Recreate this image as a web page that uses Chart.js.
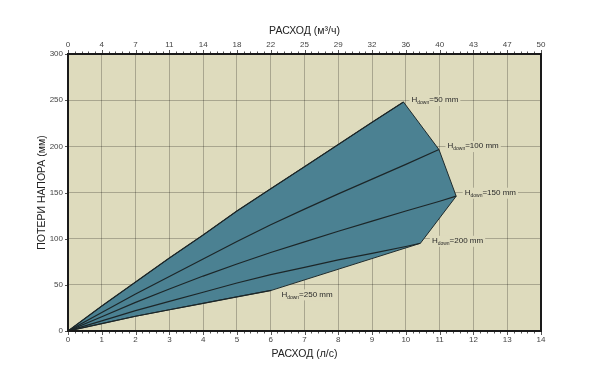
<!DOCTYPE html>
<html lang="ru">
<head>
<meta charset="UTF-8">
<title>Потери напора</title>
<script src="https://cdn.jsdelivr.net/npm/chart.js"></script>
<style>
    body { margin: 0; background: #fff; }
    #wrap { width: 600px; height: 388px; }
</style>
</head>
<body>
<div id="wrap"><canvas id="myChart" width="600" height="388"></canvas></div>
<script>
// flow, l/s  and head loss, mm  for each H_down
const h50x  = [0, 1, 2, 3, 4, 5, 6, 7, 8, 9, 9.93];
const h50y  = [0, 27, 53, 79, 104, 130, 154, 178, 202, 226, 248];
const h100x = [0, 1, 2, 3, 4, 5, 6, 7, 8, 9, 10, 10.98];
const h100y = [0, 20, 40, 59, 78, 97, 115, 132, 148.5, 164.5, 180.5, 196.5];
const h150x = [0, 1, 2, 3, 4, 5, 6, 7, 8, 9, 10, 11, 11.49];
const h150y = [0, 15.5, 31, 45.5, 59.5, 72.5, 85, 96.5, 108, 119, 130, 140.5, 146];
const h200x = [0, 1, 2, 3, 4, 5, 6, 7, 8, 9, 10, 10.43];
const h200y = [0, 11, 22, 32, 42, 52, 61, 69, 77, 84, 91.5, 95];
const h250x = [0, 1, 2, 3, 4, 5, 6.02];
const h250y = [0, 8, 16, 23, 30, 37, 44];

const curveNames = ['50', '100', '150', '200', '250'];
const topLabels = ['0', '4', '7', '11', '14', '18', '22', '25', '29', '32', '36', '40', '43', '47', '50'];

const curvesX = [h50x, h100x, h150x, h200x, h250x];
const curvesY = [h50y, h100y, h150y, h200y, h250y];

function pts(xs, ys) {
    return xs.map((x, i) => ({ x: x, y: ys[i] }));
}

// outline of the working area: 50 mm curve, the curve ends, back along 250 mm
const polygon = pts(h50x, h50y);
for (let k = 1; k < 4; k++) {
    const n = curvesX[k].length - 1;
    polygon.push({ x: curvesX[k][n], y: curvesY[k][n] });
}
pts(h250x, h250y).reverse().forEach(p => polygon.push(p));

const datasets = [];
curvesX.forEach((xs, k) => {
    datasets.push({
        data: pts(xs, curvesY[k]),
        fill: false,
        borderColor: '#1c2628',
        borderWidth: 1.2,
        pointRadius: 0,
        tension: 0,
        order: 0
    });
});
// filled area goes under the curves
datasets.push({
    data: polygon,
    fill: 'shape',
    backgroundColor: '#4b8192',
    borderColor: '#1f2b2d',
    borderWidth: 1,
    pointRadius: 0,
    tension: 0,
    order: 1
});

const plotBg = {
    id: 'plotBg',
    beforeDraw(chart) {
        const { ctx, chartArea: a } = chart;
        ctx.save();
        ctx.fillStyle = '#dedbbd';
        ctx.fillRect(a.left, a.top, a.right - a.left, a.bottom - a.top);
        ctx.restore();
    },
    afterDraw(chart) {
        const { ctx, chartArea: a } = chart;
        const xs = chart.scales.x;
        ctx.save();
        // small ticks outside the frame
        ctx.strokeStyle = '#555';
        ctx.lineWidth = 1;
        ctx.beginPath();
        for (let i = 0; i <= 70; i++) {
            const px = Math.round(xs.getPixelForValue(i / 5)) + 0.5;
            const len = i % 5 === 0 ? 4 : 2.5;
            ctx.moveTo(px, a.bottom); ctx.lineTo(px, a.bottom + len);
            ctx.moveTo(px, a.top); ctx.lineTo(px, a.top - len);
        }
        const ys = chart.scales.y;
        for (let v = 0; v <= 300; v += 50) {
            const py = Math.round(ys.getPixelForValue(v)) + 0.5;
            ctx.moveTo(a.left, py); ctx.lineTo(a.left - 3, py);
        }
        ctx.stroke();
        // frame
        ctx.strokeStyle = '#1a1a1a';
        ctx.lineWidth = 2;
        ctx.strokeRect(a.left, a.top, a.right - a.left, a.bottom - a.top);

        // curve labels
        const offs = [[8, -2], [8.5, -3.5], [8.5, -3.5], [11.5, -2.5], [10, 4]];
        curvesX.forEach((xsArr, k) => {
            const n = xsArr.length - 1;
            const px = xs.getPixelForValue(xsArr[n]) + offs[k][0];
            const py = ys.getPixelForValue(curvesY[k][n]) + offs[k][1];
            const tail = '=' + curveNames[k] + ' mm';
            ctx.font = '8px Arial, "Liberation Sans", sans-serif';
            const wH = ctx.measureText('H').width;
            const wT = ctx.measureText(tail).width;
            ctx.font = '5px Arial, "Liberation Sans", sans-serif';
            const wS = ctx.measureText('down').width;
            const w = wH + wS + wT;
            ctx.fillStyle = '#dedbbd';
            ctx.fillRect(px - 2, py - 5, w + 4, 11);
            ctx.fillStyle = '#2a2a2a';
            ctx.textBaseline = 'middle';
            ctx.font = '8px Arial, "Liberation Sans", sans-serif';
            ctx.fillText('H', px, py);
            ctx.font = '5px Arial, "Liberation Sans", sans-serif';
            ctx.fillText('down', px + wH, py + 3);
            ctx.font = '8px Arial, "Liberation Sans", sans-serif';
            ctx.fillText(tail, px + wH + wS, py);
        });
        ctx.restore();
    }
};

const tickFont = { family: 'Arial, "Liberation Sans", sans-serif', size: 8 };
const titleFont = { family: 'Arial, "Liberation Sans", sans-serif', size: 10.5 };
const gridColor = 'rgba(0, 0, 0, 0.24)';

new Chart(document.getElementById('myChart'), {
    type: 'line',
    data: { datasets: datasets },
    options: {
        responsive: false,
        animation: false,
        layout: { padding: { left: 0, right: 59, top: 0, bottom: 0 } },
        plugins: {
            legend: { display: false },
            tooltip: { enabled: false }
        },
        scales: {
            x: {
                type: 'linear',
                position: 'bottom',
                min: 0,
                max: 14,
                z: 1,
                afterFit(s) { s.height = 57; },
                ticks: { stepSize: 1, color: '#444', font: tickFont, padding: 4, maxRotation: 0 },
                grid: { color: gridColor, drawTicks: false },
                border: { display: false },
                title: { display: true, text: 'РАСХОД (л/с)', color: '#222', font: titleFont, padding: { top: 0, bottom: 28 } }
            },
            x2: {
                type: 'linear',
                position: 'top',
                min: 0,
                max: 14,
                afterFit(s) { s.height = 54; },
                ticks: {
                    stepSize: 1, color: '#444', font: tickFont, padding: 4, maxRotation: 0,
                    callback: v => topLabels[v]
                },
                grid: { display: false, drawTicks: false },
                border: { display: false },
                title: { display: true, text: 'РАСХОД (м³/ч)', color: '#222', font: titleFont, padding: { top: 25, bottom: 0 } }
            },
            y: {
                min: 0,
                max: 300,
                z: 1,
                afterFit(s) { s.width = 68; },
                ticks: { stepSize: 50, color: '#444', font: tickFont, padding: 5 },
                grid: { color: gridColor, drawTicks: false },
                border: { display: false },
                title: { display: true, text: 'ПОТЕРИ НАПОРА (мм)', color: '#222', font: titleFont, padding: { top: 36, bottom: 0 } }
            }
        }
    },
    plugins: [plotBg]
});
</script>
</body>
</html>
